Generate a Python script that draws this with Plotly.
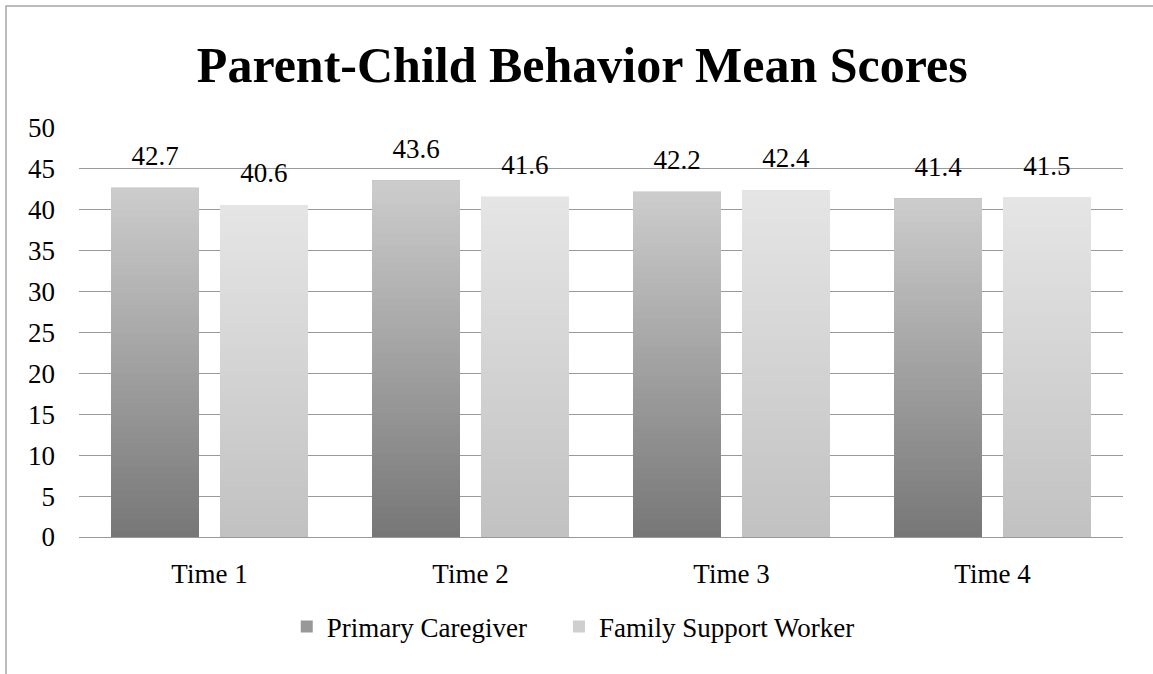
import plotly.graph_objects as go

categories = ["Time 1", "Time 2", "Time 3", "Time 4"]
primary_caregiver = [42.7, 43.6, 42.2, 41.4]
family_support_worker = [40.6, 41.6, 42.4, 41.5]
y_ticks = [0, 5, 10, 15, 20, 25, 30, 35, 40, 45, 50]

FONT = "Liberation Serif"
N_STEPS = 60
PAD = "\u00a0" * 4  # widens the gap between the two legend entries


def _grey(top, bottom, t):
    """Blend two grey levels, t=0 at bottom, t=1 at top."""
    v = round(bottom + (top - bottom) * t)
    return f"rgb({v},{v},{v})"


def _gradient_traces(values, group, top, bottom):
    """Overlay ever shorter bars, darker each time, to fake the vertical gradient."""
    traces = []
    for i in range(N_STEPS):
        frac = (N_STEPS - i) / N_STEPS
        traces.append(
            go.Bar(
                x=categories,
                y=[v * frac for v in values],
                offsetgroup=group,
                marker={"color": _grey(top, bottom, frac), "line": {"width": 0}},
                showlegend=False,
                hoverinfo="skip",
            )
        )
    return traces


fig = go.Figure()

series = [
    ("Primary Caregiver" + PAD, primary_caregiver, "pc", 204, 118),
    ("Family Support Worker", family_support_worker, "fsw", 229, 193),
]
for name, values, group, top, bottom in series:
    fig.add_trace(
        go.Bar(
            x=categories,
            y=values,
            name=name,
            offsetgroup=group,
            marker={"color": _grey(top, bottom, 0.4), "line": {"width": 0}},
        )
    )
    for tr in _gradient_traces(values, group, top, bottom):
        fig.add_trace(tr)

# value labels, placed in the same offset groups as the bars
for name, values, group, top, bottom in series:
    fig.add_trace(
        go.Scatter(
            x=categories,
            y=values,
            mode="markers+text",
            offsetgroup=group,
            text=[f"{v:.1f}" for v in values],
            textposition="top center",
            textfont={"family": FONT, "size": 27, "color": "black"},
            marker={"size": 24, "opacity": 0},
            cliponaxis=False,
            showlegend=False,
            hoverinfo="skip",
        )
    )

fig.update_layout(
    width=1153,
    height=674,
    margin={"l": 79, "r": 30, "t": 128, "b": 137},
    paper_bgcolor="white",
    plot_bgcolor="white",
    barmode="group",
    bargap=0.165,
    bargroupgap=0.193,
    scattermode="group",
    scattergap=0.165,
    title={
        "text": "<b>Parent-Child Behavior Mean Scores</b>",
        "x": 0.505,
        "xanchor": "center",
        "y": 0.905,
        "yref": "container",
        "yanchor": "middle",
        "font": {"family": FONT, "size": 50, "color": "black"},
    },
    font={"family": FONT, "size": 27, "color": "black"},
    legend={
        "orientation": "h",
        "x": 0.199,
        "xanchor": "left",
        "y": -0.22,
        "yanchor": "middle",
        "font": {"family": FONT, "size": 27},
        "traceorder": "normal",
    },
    showlegend=True,
    shapes=[
        {
            "type": "rect",
            "xref": "paper",
            "yref": "paper",
            "x0": (6 - 79) / 1044,
            "x1": 1.05,
            "y0": -0.4,
            "y1": (537 - 6) / 409,
            "line": {"color": "#a6a6a6", "width": 1.5},
            "layer": "below",
        }
    ],
)
fig.update_xaxes(
    showgrid=False, ticks="", showline=False, ticklabelstandoff=18, tickfont={"size": 27}
)
fig.update_yaxes(
    range=[0, 50],
    tickvals=y_ticks,
    showgrid=True,
    gridcolor="#999999",
    gridwidth=1.3,
    zeroline=True,
    zerolinecolor="#999999",
    zerolinewidth=1.3,
    ticks="",
    ticklabelstandoff=23,
    tickfont={"size": 27},
)

# drop the browser's default 8px body margin so the figure sits at the page origin
fig.write_html(
    "out.html",
    config={"displayModeBar": False},
    post_script="document.body.style.margin='0';",
)
